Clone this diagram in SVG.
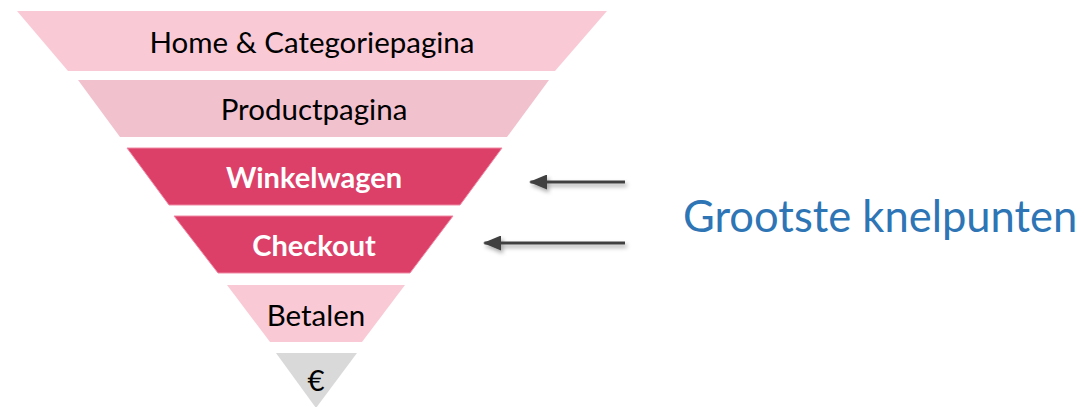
<svg xmlns="http://www.w3.org/2000/svg" width="1084" height="407" viewBox="0 0 1084 407">
  <style>
    .lbl { font-family: Lato, "Open Sans", "Liberation Sans", sans-serif; font-size: 29.5px; text-anchor: middle; fill: #000; }
    .lbl-hot { font-family: Lato, "Open Sans", "Liberation Sans", sans-serif; font-size: 29px; font-weight: bold; text-anchor: middle; fill: #fff; }
    .pale { fill: #F9CAD6; }
    .dusty { fill: #F2C1CE; }
    .hot { fill: #DC4069; stroke: #F08AA6; stroke-width: 1; }
    .end { fill: #D9D9D9; }
    .arrow { stroke: #404040; stroke-width: 3; fill: none; }
    .note { font-family: Lato, "Open Sans", "Liberation Sans", sans-serif; font-size: 43.5px; fill: #2E75B6; }
  </style>
  <defs>
    <filter id="shadow" x="-10%" y="-100%" width="130%" height="400%">
      <feDropShadow dx="2" dy="3" stdDeviation="2" flood-color="#000" flood-opacity="0.35"/>
    </filter>
    <marker id="head" markerWidth="6" markerHeight="5" refX="5.5" refY="2.5" orient="auto" markerUnits="strokeWidth">
      <path d="M0,0 L6,2.5 L0,5 Z" fill="#404040"/>
    </marker>
  </defs>

  <!-- funnel stages, widest at the top -->
  <g id="home">
    <polygon class="pale" points="17,11 607,11 555,71 68,71"/>
    <text class="lbl" x="312" y="53">Home &amp; Categoriepagina</text>
  </g>
  <g id="product">
    <polygon class="dusty" points="78,80 549,80 507,137 120,137"/>
    <text class="lbl" x="314" y="120">Productpagina</text>
  </g>
  <g id="cart">
    <polygon class="hot" points="127,148 502,148 460,205 169,205"/>
    <text class="lbl-hot" x="314" y="188">Winkelwagen</text>
  </g>
  <g id="checkout">
    <polygon class="hot" points="174,216 453,216 410,273 218,273"/>
    <text class="lbl-hot" x="314" y="256">Checkout</text>
  </g>
  <g id="pay">
    <polygon class="pale" points="227,285 405,285 362,342 270,342"/>
    <text class="lbl" x="316" y="326">Betalen</text>
  </g>
  <g id="euro">
    <polygon class="end" points="276,353 357,353 316,408"/>
    <text class="lbl" x="316" y="391">€</text>
  </g>

  <!-- pointers to the bottleneck stages -->
  <g id="connectors" filter="url(#shadow)">
    <line class="arrow" x1="625" y1="182" x2="530.5" y2="182" marker-end="url(#head)"/>
    <line class="arrow" x1="625" y1="243" x2="484.5" y2="243" marker-end="url(#head)"/>
  </g>

  <g id="callout">
    <text class="note" x="683" y="232">Grootste knelpunten</text>
  </g>
</svg>
